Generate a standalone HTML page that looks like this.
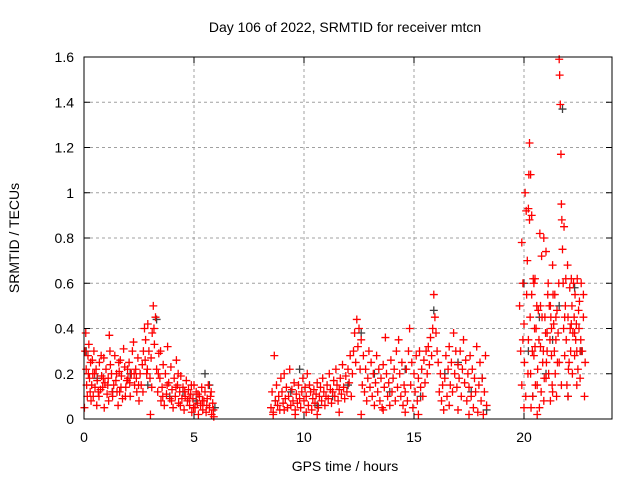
<!DOCTYPE html>
<html><head><meta charset="utf-8"><style>
body{margin:0;background:#fff}
svg{display:block;font-family:"Liberation Sans",sans-serif}
</style></head><body>
<svg id="chart" width="640" height="480">
<rect width="640" height="480" fill="#fff"/>
<text x="345" y="32" font-size="14" text-anchor="middle">Day 106 of 2022, SRMTID for receiver mtcn</text>
<text x="345" y="471" font-size="14" text-anchor="middle">GPS time / hours</text>
<text transform="translate(19,238) rotate(-90)" font-size="14" text-anchor="middle">SRMTID / TECUs</text>
<g id="grid"></g><g id="ticks"></g><g id="marks"></g>
<rect x="84" y="57" width="528" height="362" fill="none" stroke="#000" stroke-width="1"/>
</svg>
<script>
const xTicks=[0,5,10,15,20];
const yTicks=[0,0.2,0.4,0.6,0.8,1,1.2,1.4,1.6];
const yTickLabels=["0","0.2","0.4","0.6","0.8","1","1.2","1.4","1.6"];
// red series, morning block [hour, TECU]
const redMorning=[
[0.02,0.05],[0.05,0.3],[0.08,0.38],[0.1,0.22],[0.12,0.15],[0.15,0.1],[0.18,0.28],[0.2,0.2],[0.22,0.33],[0.25,0.18],
[0.3,0.25],[0.32,0.08],[0.35,0.15],[0.4,0.2],[0.42,0.1],[0.45,0.3],[0.5,0.14],[0.55,0.22],[0.58,0.06],[0.6,0.17],
[0.65,0.12],[0.7,0.25],[0.75,0.13],[0.8,0.19],[0.85,0.14],[0.9,0.27],[0.92,0.05],[0.95,0.16],[1.0,0.22],[1.05,0.11],
[1.1,0.18],[1.12,0.08],[1.15,0.37],[1.2,0.24],[1.25,0.2],[1.3,0.1],[1.35,0.15],[1.4,0.28],[1.45,0.17],[1.5,0.12],
[1.55,0.06],[1.6,0.21],[1.62,0.12],[1.65,0.26],[1.7,0.19],[1.75,0.09],[1.8,0.31],[1.85,0.23],[1.9,0.14],[1.95,0.17],
[2.0,0.18],[2.05,0.25],[2.1,0.1],[2.15,0.2],[2.2,0.3],[2.25,0.34],[2.3,0.15],[2.35,0.22],[2.4,0.12],[2.45,0.27],
[2.5,0.08],[2.55,0.2],[2.6,0.15],[2.65,0.24],[2.7,0.3],[2.75,0.4],[2.8,0.35],[2.85,0.2],[2.9,0.42],[2.95,0.3],
[3.0,0.18],[3.02,0.02],[3.05,0.27],[3.1,0.38],[3.15,0.5],[3.2,0.33],[3.25,0.45],[3.3,0.22],[3.35,0.12],[3.4,0.29],
[3.45,0.18],[3.5,0.08],[3.55,0.14],[3.6,0.24],[3.65,0.06],[3.7,0.2],[3.75,0.11],[3.8,0.32],[3.85,0.16],[3.9,0.09],
[3.95,0.23],[4.0,0.13],[4.05,0.05],[4.1,0.18],[4.15,0.1],[4.2,0.26],[4.25,0.15],[4.3,0.07],[4.35,0.12],[4.4,0.19],
[4.45,0.09],[4.5,0.14],[4.55,0.04],[4.6,0.1],[4.65,0.17],[4.7,0.08],[4.75,0.13],[4.8,0.06],[4.85,0.11],[4.9,0.03],
[4.95,0.09],[5.0,0.15],[5.05,0.05],[5.1,0.12],[5.15,0.07],[5.2,0.02],[5.25,0.1],[5.3,0.06],[5.35,0.14],[5.4,0.04],
[5.45,0.08],[5.5,0.12],[5.55,0.03],[5.6,0.09],[5.65,0.15],[5.7,0.05],[5.75,0.1],[5.8,0.02],[5.85,0.07],[5.9,0.01],
[0.28,0.12],[0.48,0.2],[0.68,0.1],[0.88,0.18],[1.08,0.15],[1.28,0.12],[1.48,0.2],[1.68,0.14],[1.88,0.1],[2.08,0.16],
[2.28,0.2],[2.48,0.15],[2.68,0.12],[2.88,0.22],[3.08,0.14],[3.38,0.2],[3.58,0.1],[3.78,0.15],[3.98,0.08],[4.18,0.14],
[4.38,0.06],[4.58,0.12],[4.78,0.09],[4.98,0.05],[5.18,0.11],[5.38,0.08],[5.58,0.06],[5.78,0.12],[5.88,0.04],[0.38,0.26],
[0.78,0.28],[1.18,0.3],[1.58,0.25],[1.98,0.22],[2.38,0.18],[2.78,0.26],[3.18,0.4],[3.48,0.3],[4.28,0.2],[4.88,0.15]];
// red series, midday block
const redMidday=[
[8.5,0.05],[8.55,0.12],[8.6,0.03],[8.65,0.28],[8.7,0.08],[8.75,0.15],[8.8,0.06],[8.85,0.1],[8.9,0.04],[8.95,0.18],
[9.0,0.12],[9.05,0.07],[9.1,0.2],[9.15,0.09],[9.2,0.14],[9.25,0.05],[9.3,0.1],[9.35,0.22],[9.4,0.06],[9.45,0.13],
[9.5,0.08],[9.55,0.16],[9.6,0.04],[9.65,0.11],[9.7,0.07],[9.75,0.15],[9.8,0.09],[9.85,0.05],[9.9,0.12],[9.95,0.18],
[10.0,0.08],[10.05,0.14],[10.1,0.1],[10.15,0.2],[10.2,0.06],[10.25,0.15],[10.3,0.12],[10.35,0.04],[10.4,0.09],[10.45,0.13],
[10.5,0.07],[10.55,0.11],[10.6,0.16],[10.65,0.05],[10.7,0.1],[10.75,0.14],[10.8,0.08],[10.85,0.18],[10.9,0.12],[10.95,0.06],
[11.0,0.1],[11.05,0.15],[11.1,0.09],[11.15,0.2],[11.2,0.13],[11.25,0.07],[11.3,0.12],[11.35,0.17],[11.4,0.1],[11.45,0.22],
[11.5,0.15],[11.55,0.08],[11.6,0.13],[11.65,0.18],[11.7,0.11],[11.75,0.24],[11.8,0.14],[11.85,0.09],[11.9,0.19],[11.95,0.12],
[12.0,0.22],[12.05,0.16],[12.1,0.28],[12.15,0.1],[12.2,0.2],[12.25,0.3],[12.3,0.38],[12.35,0.25],[12.4,0.44],[12.45,0.32],
[12.5,0.4],[12.55,0.22],[12.6,0.35],[12.65,0.15],[12.7,0.28],[12.75,0.12],[12.8,0.22],[12.85,0.08],[12.9,0.18],[12.95,0.3],
[13.0,0.14],[13.05,0.25],[13.1,0.1],[13.15,0.2],[13.2,0.06],[13.25,0.16],[13.3,0.28],[13.35,0.12],[13.4,0.22],[13.45,0.08],
[13.5,0.18],[13.55,0.05],[13.6,0.24],[13.65,0.14],[13.7,0.36],[13.75,0.2],[13.8,0.1],[13.85,0.16],[13.9,0.06],[13.95,0.26],
[14.0,0.12],[14.05,0.18],[14.1,0.22],[14.15,0.08],[14.2,0.3],[14.25,0.14],[14.3,0.35],[14.35,0.2],[14.4,0.1],[14.45,0.25],
[14.5,0.06],[14.55,0.15],[14.6,0.12],[14.65,0.22],[14.7,0.08],[14.75,0.3],[14.8,0.4],[14.85,0.15],[14.9,0.25],[14.95,0.05],
[15.0,0.2],[15.05,0.12],[15.1,0.28],[15.15,0.08],[15.2,0.18],[15.25,0.3],[15.3,0.14],[15.35,0.22],[15.4,0.1],[15.45,0.26],
[15.5,0.16],[15.55,0.3],[15.6,0.2],[15.65,0.32],[15.7,0.24],[15.75,0.36],[15.8,0.28],[15.85,0.4],[15.9,0.55],[15.95,0.45],
[16.0,0.38],[16.05,0.3],[16.1,0.25],[16.15,0.12],[16.2,0.2],[16.25,0.08],[16.3,0.15],[16.35,0.04],[16.4,0.18],[16.45,0.28],
[16.5,0.1],[16.55,0.22],[16.6,0.32],[16.65,0.15],[16.7,0.25],[16.75,0.12],[16.8,0.38],[16.85,0.2],[16.9,0.3],[16.95,0.14],
[17.0,0.24],[17.05,0.18],[17.1,0.3],[17.15,0.1],[17.2,0.22],[17.25,0.35],[17.3,0.16],[17.35,0.26],[17.4,0.08],[17.45,0.2],
[17.5,0.14],[17.55,0.28],[17.6,0.1],[17.65,0.22],[17.7,0.05],[17.75,0.18],[17.8,0.12],[17.85,0.32],[17.9,0.03],[17.95,0.15],
[18.0,0.25],[18.05,0.08],[18.1,0.18],[18.15,0.02],[18.2,0.12],[18.25,0.28],[18.3,0.06],[17.0,0.04],[17.5,0.02],[16.6,0.06],
[15.2,0.02],[14.6,0.03],[13.6,0.04],[12.6,0.02],[11.6,0.03],[10.6,0.02],[9.6,0.02],[8.6,0.02],[9.1,0.04],[10.1,0.03]];
// red series, evening block
const redEvening=[
[19.8,0.5],[19.85,0.3],[19.9,0.78],[19.95,0.6],[20.0,0.42],[20.02,0.25],[20.05,1.0],[20.08,0.1],[20.1,0.92],[20.12,0.55],
[20.15,0.7],[20.18,0.2],[20.2,0.35],[20.22,1.08],[20.25,0.88],[20.28,0.45],[20.3,0.2],[20.32,0.05],[20.35,0.55],[20.38,0.3],
[20.4,0.1],[20.42,0.62],[20.45,0.28],[20.48,0.4],[20.5,0.62],[20.52,0.15],[20.55,0.4],[20.58,0.5],[20.6,0.15],[20.62,0.22],
[20.65,0.48],[20.68,0.35],[20.7,0.05],[20.72,0.82],[20.75,0.32],[20.78,0.12],[20.8,0.72],[20.82,0.45],[20.85,0.25],[20.88,0.3],
[20.9,0.8],[20.92,0.18],[20.95,0.45],[20.98,0.38],[21.0,0.18],[21.02,0.25],[21.05,0.38],[21.08,0.55],[21.1,0.6],[21.12,0.2],
[21.15,0.5],[21.18,0.35],[21.2,0.08],[21.22,0.45],[21.25,0.28],[21.28,0.15],[21.3,0.68],[21.32,0.55],[21.35,0.42],[21.38,0.3],
[21.4,0.55],[21.42,0.2],[21.45,0.35],[21.48,0.1],[21.5,0.48],[21.52,0.25],[21.55,0.38],[21.58,0.6],[21.6,1.59],[21.62,1.52],
[21.65,1.39],[21.68,1.17],[21.7,0.95],[21.72,0.88],[21.75,0.75],[21.78,0.6],[21.8,0.4],[21.82,0.85],[21.85,0.28],[21.88,0.5],
[21.9,0.62],[21.92,0.35],[21.95,0.15],[21.98,0.68],[22.0,0.45],[22.02,0.22],[22.05,0.25],[22.08,0.58],[22.1,0.4],[22.12,0.3],
[22.15,0.62],[22.18,0.5],[22.2,0.2],[22.22,0.38],[22.25,0.6],[22.28,0.45],[22.3,0.28],[22.32,0.55],[22.35,0.35],[22.38,0.42],
[22.4,0.3],[22.42,0.62],[22.45,0.22],[22.48,0.48],[22.5,0.4],[22.52,0.52],[22.55,0.18],[22.58,0.35],[22.6,0.6],[22.65,0.3],
[22.7,0.45],[22.75,0.1],[22.78,0.25],[20.25,1.22],[20.3,1.08],[20.2,0.93],[20.35,0.9],[21.0,0.74],[20.5,0.32],[21.2,0.5],
[19.9,0.15],[20.0,0.05],[20.6,0.02],[20.9,0.08],[21.3,0.12],[21.7,0.15],[22.0,0.1],[22.4,0.15],[19.95,0.35],[20.45,0.6],
[21.25,0.4],[21.45,0.45],[21.85,0.45],[22.15,0.42],[22.55,0.3],[22.7,0.55],[20.75,0.5],[21.05,0.3],[21.6,0.25],[22.3,0.38]];
// gray (second) series
const grayPts=[
[0.1,0.3],[0.6,0.18],[1.3,0.12],[2.1,0.2],[2.9,0.15],[3.3,0.44],[3.9,0.1],[4.5,0.12],[5.1,0.08],[5.5,0.2],
[5.7,0.15],[5.95,0.05],[8.7,0.08],[9.4,0.12],[9.8,0.22],[10.6,0.06],[11.3,0.1],[12.0,0.15],[12.6,0.38],[13.2,0.2],
[13.9,0.12],[14.6,0.22],[15.3,0.1],[15.9,0.48],[16.4,0.2],[17.0,0.25],[17.6,0.12],[18.1,0.18],[18.3,0.04],[20.0,0.6],
[20.2,0.3],[20.4,0.1],[20.7,0.45],[21.0,0.2],[21.3,0.35],[21.6,0.5],[21.75,1.37],[22.0,0.1],[22.3,0.58],[22.6,0.3]];
const NS="http://www.w3.org/2000/svg";
const L=84,R=612,T=57,B=419,XMAX=24,YMAX=1.6;
function xs(v){return L+(R-L)*v/XMAX;}
function ys(v){return B-(B-T)*v/YMAX;}
function mk(tag,at,parent){const e=document.createElementNS(NS,tag);for(const k in at)e.setAttribute(k,at[k]);parent.appendChild(e);return e;}
const grid=document.getElementById('grid'),ticks=document.getElementById('ticks'),marks=document.getElementById('marks');
yTicks.forEach((v,i)=>{
 const y=ys(v);
 if(i>0&&i<yTicks.length-1){const g=mk('line',{x1:L,x2:R,y1:y,y2:y,stroke:'#a0a0a0','stroke-dasharray':'3,3'},grid);
 
 }
 mk('line',{x1:L,x2:L+6,y1:y,y2:y,stroke:'#000'},ticks);
 mk('line',{x1:R,x2:R-6,y1:y,y2:y,stroke:'#000'},ticks);
 const t=mk('text',{x:L-10,y:y+5,'font-size':14,'text-anchor':'end'},ticks);t.textContent=yTickLabels[i];
 
 
});
xTicks.forEach(v=>{
 const x=xs(v);
 if(v>0){const g=mk('line',{x1:x,x2:x,y1:T,y2:B,stroke:'#a0a0a0','stroke-dasharray':'3,3'},grid);
 
 }
 mk('line',{x1:x,x2:x,y1:B,y2:B-6,stroke:'#000'},ticks);
 mk('line',{x1:x,x2:x,y1:T,y2:T+6,stroke:'#000'},ticks);
 const t=mk('text',{x:x,y:B+23,'font-size':14,'text-anchor':'middle'},ticks);t.textContent=String(v);
 
 
});
function plus(t,v,col,name){
 const x=xs(t),y=ys(v);
 const p=mk('path',{d:`M${x-4},${y}h8M${x},${y-4}v8`,stroke:col,'stroke-width':1.3,fill:'none'},marks);
 
 
}
grayPts.forEach(p=>plus(p[0],p[1],'#404040','gray-point'));
[redMorning,redMidday,redEvening].forEach(seg=>seg.forEach(p=>plus(p[0],p[1],'#ff0000','red-point')));
</script>
</body></html>
